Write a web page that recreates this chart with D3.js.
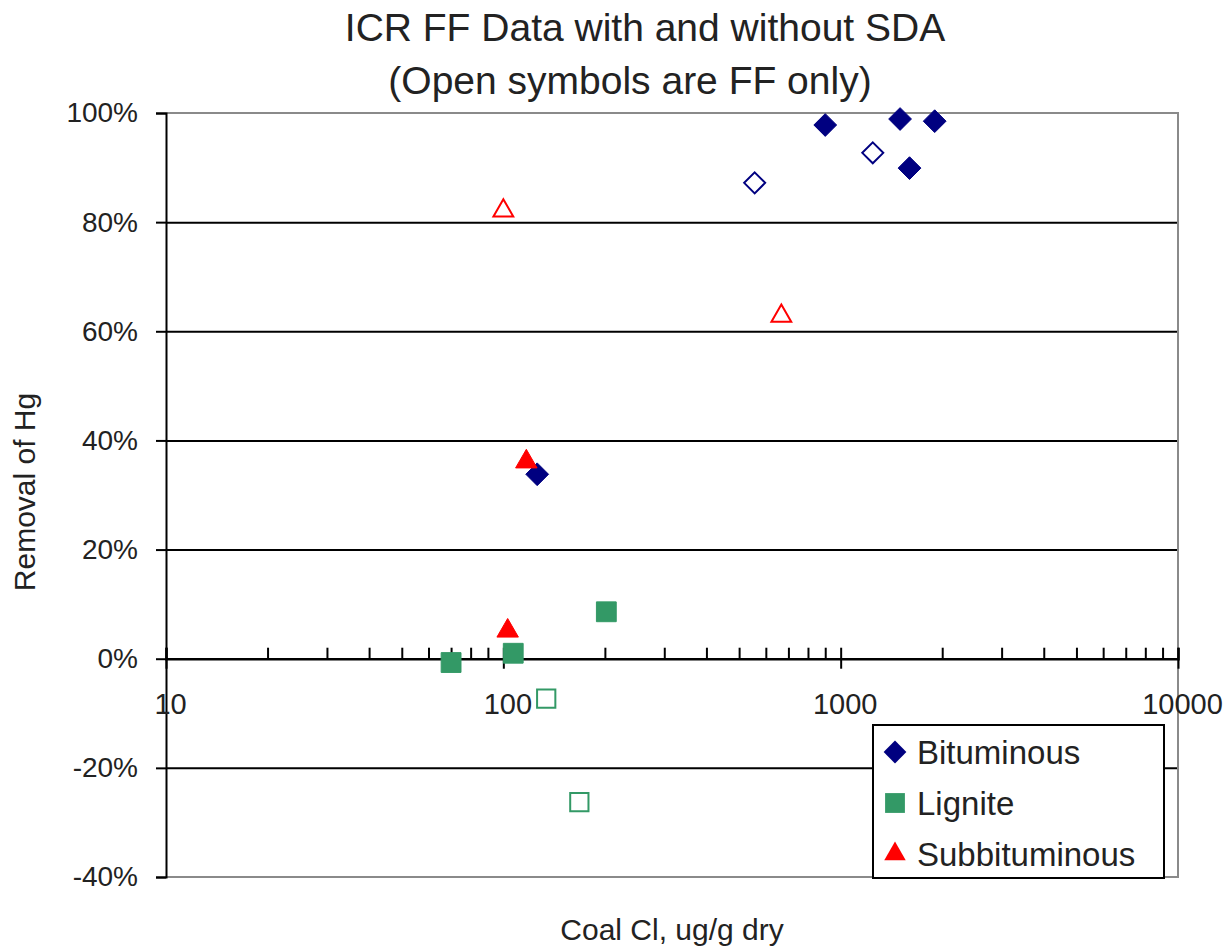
<!DOCTYPE html>
<html>
<head>
<meta charset="utf-8">
<script src="https://cdn.jsdelivr.net/npm/d3@7.9.0/dist/d3.min.js"></script>
<style>
  body { margin: 0; background: #fff; }
  svg { display: block; font-family: "Liberation Sans", Arial, sans-serif; }
</style>
</head>
<body>
<svg id="chart" width="1228" height="951"></svg>
<script>
// Coal Cl (ug/g dry) vs Hg removal; "open" = FF only
const bitFilledX = [126, 900, 1500, 1900, 1600];
const bitFilledY = [0.338, 0.978, 0.989, 0.985, 0.899];
const bitOpenX = [556, 1245];
const bitOpenY = [0.872, 0.927];

const ligFilledX = [70, 107, 202];
const ligFilledY = [-0.007, 0.010, 0.086];
const ligOpenX = [134, 168];
const ligOpenY = [-0.073, -0.263];

const subFilledX = [117, 103];
const subFilledY = [0.361, 0.051];
const subOpenX = [100, 667];
const subOpenY = [0.821, 0.628];

const yTicks = [-0.4, -0.2, 0, 0.2, 0.4, 0.6, 0.8, 1.0];
const xMajor = [10, 100, 1000, 10000];
const legendNames = ['Bituminous', 'Lignite', 'Subbituminous'];

const colors = { Bituminous: '#000080', Lignite: '#339966', Subbituminous: '#ff0000' };
const shapes = { Bituminous: d3.symbolDiamond2, Lignite: d3.symbolSquare2, Subbituminous: d3.symbolTriangle2 };
const sizes = { Bituminous: 330, Lignite: 500, Subbituminous: 330 };

const fmt = d3.formatLocale({ decimal: '.', thousands: ',', grouping: [3], currency: ['$', ''], minus: '-' });

const svg = d3.select('#chart');
const mLeft = 166, mRight = 1178, mTop = 113, mBottom = 877;

const x = d3.scaleLog().domain([10, 10000]).range([mLeft, mRight]);
const y = d3.scaleLinear().domain([-0.4, 1.0]).range([mBottom, mTop]);

// gridlines
svg.append('g').attr('transform', `translate(${mLeft},0)`)
  .call(d3.axisLeft(y).tickValues(yTicks.filter(d => d !== 0 && d !== 1 && d !== -0.4)).tickSize(-(mRight - mLeft)).tickFormat(''))
  .call(g => g.select('.domain').remove())
  .selectAll('line').attr('stroke', '#000').attr('stroke-width', 2);

// plot frame (top / right / bottom)
svg.append('path')
  .attr('d', `M${mLeft},${mTop}H${mRight}V${mBottom}H${mLeft}`)
  .attr('fill', 'none').attr('stroke', '#8a8a8a').attr('stroke-width', 2);

// y axis
const yAx = svg.append('g').attr('transform', `translate(${mLeft},0)`)
  .call(d3.axisLeft(y).tickValues(yTicks).tickSize(10).tickPadding(18).tickFormat(fmt.format('.0%')));
yAx.select('.domain').attr('stroke', '#000').attr('stroke-width', 2);
yAx.selectAll('line').attr('stroke', '#000').attr('stroke-width', 2);
yAx.selectAll('text').attr('font-size', 28).attr('fill', '#222').attr('font-family', null);

// x axis crossing at 0%
const y0 = y(0);
const xMinor = svg.append('g').attr('transform', `translate(0,${y0})`)
  .call(d3.axisTop(x).tickValues(x.ticks()).tickSize(11).tickFormat(''));
xMinor.select('.domain').attr('stroke', '#000').attr('stroke-width', 2.5);
xMinor.selectAll('line').attr('stroke', '#000').attr('stroke-width', 2);

const xAx = svg.append('g').attr('transform', `translate(0,${y0})`)
  .call(d3.axisBottom(x).tickValues(xMajor).tickSize(10).tickPadding(25).tickFormat(d3.format('d')));
xAx.select('.domain').remove();
xAx.selectAll('line').attr('stroke', '#000').attr('stroke-width', 2);
xAx.selectAll('text').attr('font-size', 29).attr('fill', '#222').attr('font-family', null).attr('dx', 4);

// series
function drawSeries(name, xs, ys, open) {
  const sym = d3.symbol().type(shapes[name]).size(open ? sizes[name] * 0.85 : sizes[name]);
  svg.append('g').selectAll('path')
    .data(xs.map((v, i) => ({ x: v, y: ys[i] })))
    .join('path')
    .attr('transform', d => `translate(${x(d.x)},${y(d.y)})`)
    .attr('d', sym)
    .attr('fill', open ? '#fff' : colors[name])
    .attr('stroke', colors[name])
    .attr('stroke-width', open ? 2 : 1);
}
drawSeries('Bituminous', bitOpenX, bitOpenY, true);
drawSeries('Lignite', ligOpenX, ligOpenY, true);
drawSeries('Subbituminous', subOpenX, subOpenY, true);
drawSeries('Lignite', ligFilledX, ligFilledY, false);
drawSeries('Bituminous', bitFilledX, bitFilledY, false);
drawSeries('Subbituminous', subFilledX, subFilledY, false);

// titles
const title = svg.append('g').attr('font-size', 39).attr('fill', '#222').attr('text-anchor', 'middle');
title.append('text').attr('x', 645).attr('y', 41).text('ICR FF Data with and without SDA');
title.append('text').attr('x', 630).attr('y', 94).text('(Open symbols are FF only)');

svg.append('text').attr('x', 672).attr('y', 940).attr('text-anchor', 'middle')
  .attr('font-size', 30).attr('fill', '#222').text('Coal Cl, ug/g dry');
svg.append('text').attr('transform', 'translate(35,492) rotate(-90)').attr('text-anchor', 'middle')
  .attr('font-size', 30).attr('fill', '#222').text('Removal of Hg');

// legend
const lg = svg.append('g').attr('transform', 'translate(873,725)');
lg.append('rect').attr('width', 291).attr('height', 153)
  .attr('fill', '#fff').attr('stroke', '#000').attr('stroke-width', 2);
const items = lg.selectAll('g.item').data(legendNames).join('g')
  .attr('transform', (d, i) => `translate(0,${27 + i * 51})`);
items.append('path')
  .attr('transform', 'translate(22,0)')
  .attr('d', d => d3.symbol().type(shapes[d]).size(sizes[d])())
  .attr('fill', d => colors[d]);
items.append('text').attr('x', 44).attr('y', 12)
  .attr('font-size', 33).attr('fill', '#222').text(d => d);
</script>
</body>
</html>
